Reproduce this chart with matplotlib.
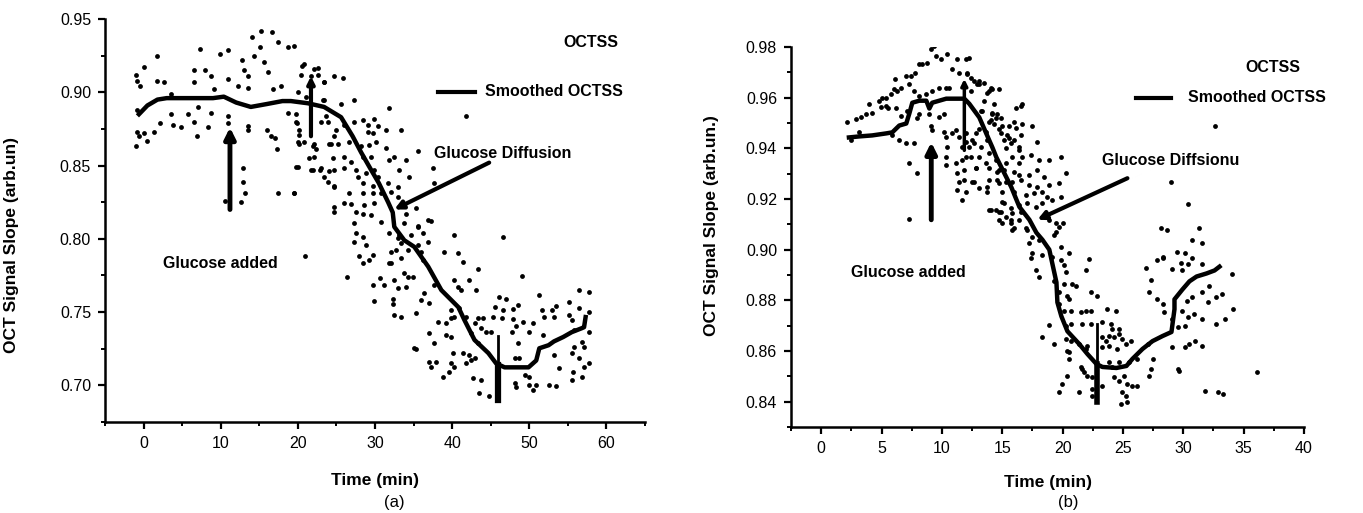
import numpy as np
import matplotlib.pyplot as plt
from matplotlib.ticker import MultipleLocator, FormatStrFormatter

plt.rcParams['font.family'] = ['Liberation Sans', 'DejaVu Sans']

### Panel (a): raw OCTSS points (time min, slope)
a_pts_early = [
    (-1.0, 0.912), (-0.8, 0.9075), (0.0, 0.917), (-0.4, 0.904), (1.7, 0.925), (1.7, 0.908), (2.6, 0.907),
    (3.5, 0.899), (-0.8, 0.888), (-0.9, 0.873), (-0.6, 0.870), (0.0, 0.8725), (0.5, 0.867), (1.4, 0.873),
    (2.1, 0.879), (3.6, 0.885), (3.8, 0.8775), (4.8, 0.876), (5.7, 0.885), (6.5, 0.915), (6.6, 0.907),
    (7.3, 0.9295), (7.9, 0.915), (6.5, 0.8795), (6.9, 0.870), (7.1, 0.890), (8.3, 0.876), (8.7, 0.911),
    (8.8, 0.886), (9.1, 0.902), (9.9, 0.926), (11.0, 0.9288), (11.0, 0.909), (11.0, 0.8835), (10.9, 0.879),
    (12.3, 0.904), (13.0, 0.915), (12.7, 0.922), (14.0, 0.9377), (15.2, 0.9418), (16.6, 0.941), (13.5, 0.911),
    (13.5, 0.903), (14.3, 0.9247), (15.1, 0.9308), (15.6, 0.9205), (16.1, 0.914), (17.4, 0.9342), (18.7, 0.9308),
    (19.5, 0.9315), (16.8, 0.902), (17.8, 0.904), (13.5, 0.877), (13.6, 0.8745), (16.0, 0.8745), (16.5, 0.870),
    (17.1, 0.8685), (17.3, 0.861), (18.7, 0.886), (19.7, 0.885), (19.9, 0.879), (20.1, 0.871), (20.1, 0.865),
    (20.8, 0.8658), (22.1, 0.8644), (22.1, 0.8555), (22.9, 0.8473), (23.4, 0.842), (24.7, 0.8356), (24.3, 0.8644),
    (24.7, 0.870), (23.6, 0.8835), (23.2, 0.895), (23.4, 0.907), (24.7, 0.911), (20.6, 0.918), (22.1, 0.916),
    (22.6, 0.912), (20.0, 0.849), (21.9, 0.8473), (23.0, 0.848), (24.0, 0.8466), (12.9, 0.8486), (12.9, 0.839),
    (13.2, 0.8315), (12.6, 0.8253), (10.5, 0.826), (17.4, 0.8315), (19.5, 0.8315), (-1.0, 0.863), (24.7, 0.822),
    (24.7, 0.8185), (20.9, 0.788),
]
a_pts_drop = [
    (20.8, 0.919), (22.6, 0.9164), (20.4, 0.912), (21.7, 0.911), (23.4, 0.907), (25.8, 0.9096), (20.0, 0.900),
    (21.0, 0.897), (23.4, 0.895), (25.6, 0.892), (27.3, 0.895), (31.8, 0.889), (41.8, 0.8835), (19.7, 0.8795),
    (20.1, 0.8745), (23.0, 0.8795), (23.9, 0.8795), (24.9, 0.8745), (26.0, 0.878), (27.3, 0.880), (28.4, 0.881),
    (29.9, 0.8815), (29.1, 0.878), (30.4, 0.877), (31.4, 0.874), (29.1, 0.873), (29.7, 0.8725), (33.4, 0.874),
    (20.0, 0.8658), (21.9, 0.863), (22.3, 0.861), (24.0, 0.8644), (25.2, 0.865), (26.6, 0.8658), (28.2, 0.863),
    (29.2, 0.8637), (30.1, 0.8658), (31.4, 0.8623), (35.6, 0.8596), (21.4, 0.855), (19.7, 0.849), (24.5, 0.855),
    (26.0, 0.8555), (26.9, 0.8527), (28.4, 0.856), (29.5, 0.856), (31.8, 0.854), (32.5, 0.856), (34.0, 0.854),
    (21.7, 0.8473), (24.7, 0.8473), (26.0, 0.8486), (27.5, 0.8473), (28.8, 0.845), (29.9, 0.8473), (30.4, 0.8425),
    (33.1, 0.8473), (37.5, 0.8486), (23.9, 0.839), (24.7, 0.8363), (27.8, 0.842), (28.4, 0.8384), (29.7, 0.8363),
    (31.7, 0.8384), (33.0, 0.8356), (34.4, 0.842), (37.7, 0.8384), (19.5, 0.831), (26.6, 0.8315), (28.4, 0.8315),
    (29.7, 0.8315), (30.8, 0.8315), (32.1, 0.832), (33.0, 0.8288), (26.0, 0.8247), (26.9, 0.824), (28.6, 0.8233),
    (29.9, 0.8247), (35.3, 0.8212), (27.5, 0.818), (28.4, 0.817), (29.5, 0.8164), (34.0, 0.817), (27.3, 0.811),
    (30.8, 0.8116), (33.8, 0.811), (35.6, 0.808), (36.9, 0.813), (27.5, 0.804), (28.4, 0.8014), (31.8, 0.804),
    (33.1, 0.8027), (34.7, 0.8027), (36.2, 0.804), (40.3, 0.8027), (27.3, 0.798), (28.8, 0.796), (33.4, 0.797),
    (34.3, 0.7925), (36.9, 0.798), (39.0, 0.791), (36.0, 0.791), (32.1, 0.791), (29.7, 0.789), (37.3, 0.8123),
    (35.6, 0.809), (33.0, 0.8007), (46.6, 0.8014), (32.7, 0.7925), (35.6, 0.796), (40.8, 0.790), (32.1, 0.7836),
    (33.4, 0.787), (36.2, 0.7856), (41.4, 0.7842), (43.4, 0.7795), (27.9, 0.788), (28.4, 0.7836), (29.2, 0.7856),
    (26.4, 0.774), (29.7, 0.7685), (30.6, 0.7733), (29.9, 0.7575), (32.3, 0.759), (32.3, 0.7555), (31.8, 0.7836),
    (35.3, 0.7247),
]
a_pts_low = [
    (31.2, 0.7685), (32.5, 0.772), (33.8, 0.7767), (34.3, 0.774), (34.9, 0.774), (37.7, 0.7685), (40.3, 0.772),
    (40.8, 0.767), (42.2, 0.772), (43.1, 0.765), (49.0, 0.7747), (33.0, 0.7664), (34.0, 0.767), (36.4, 0.763),
    (41.2, 0.765), (36.0, 0.7582), (37.0, 0.7562), (32.5, 0.748), (33.4, 0.7466), (35.3, 0.7493), (39.9, 0.7514),
    (40.9, 0.7527), (40.3, 0.7466), (41.8, 0.7466), (45.5, 0.7534), (46.1, 0.7603), (47.0, 0.759), (48.6, 0.7548),
    (51.2, 0.7616), (56.4, 0.765), (57.7, 0.7637), (55.1, 0.7568), (56.5, 0.7527), (57.7, 0.750), (45.3, 0.7466),
    (46.6, 0.7514), (47.9, 0.752), (51.6, 0.7514), (52.9, 0.7514), (53.5, 0.754), (43.4, 0.746), (44.0, 0.746),
    (38.2, 0.7432), (39.2, 0.7425), (39.9, 0.746), (42.9, 0.7425), (43.8, 0.739), (44.4, 0.7363), (45.1, 0.7363),
    (46.4, 0.746), (47.9, 0.7452), (48.3, 0.7404), (49.2, 0.7432), (50.5, 0.7425), (53.2, 0.7466), (51.9, 0.7466),
    (55.2, 0.748), (55.5, 0.7445), (37.0, 0.7356), (39.2, 0.7342), (39.9, 0.733), (42.5, 0.7356), (47.7, 0.7363),
    (49.9, 0.7363), (51.8, 0.7342), (55.8, 0.7377), (57.7, 0.7363), (35.1, 0.7253), (37.7, 0.7288), (43.4, 0.7288),
    (48.6, 0.7288), (56.8, 0.7295), (57.1, 0.726), (55.8, 0.726), (40.1, 0.722), (41.4, 0.722), (42.2, 0.7205),
    (48.1, 0.7185), (48.7, 0.7185), (53.2, 0.7205), (55.5, 0.722), (56.4, 0.719), (37.0, 0.7158), (37.9, 0.7158),
    (37.3, 0.7123), (39.9, 0.715), (40.3, 0.7123), (41.8, 0.715), (42.5, 0.717), (42.9, 0.719), (53.9, 0.7116),
    (57.1, 0.7123), (57.8, 0.715), (38.8, 0.7055), (39.6, 0.709), (49.5, 0.7068), (49.9, 0.7055), (55.7, 0.709),
    (56.8, 0.7055), (55.5, 0.7034), (42.7, 0.705), (43.8, 0.7034), (48.1, 0.7014), (48.3, 0.6986), (49.9, 0.700),
    (50.9, 0.700), (50.5, 0.6966), (52.6, 0.700), (53.5, 0.6993), (43.5, 0.6945), (44.8, 0.693), (46.0, 0.7034),
]

### Panel (a): smoothed OCTSS
a_smooth_t = [-0.6, 0.5, 1.8, 3, 5, 7, 9, 10.4, 12, 13.9, 16, 18, 19.1, 21.3, 23.4, 25.6, 27.1, 28.2, 29.5,
              30.5, 31.7, 32.3, 32.5, 33.8, 35.1, 36.9, 38.6, 40.8, 41.6, 42.9, 44.7, 45.7, 46.8, 49.9, 50.9,
              51.3, 52.5, 53.2, 54.4, 55.5, 56.8, 57.1, 57.3]
a_smooth_s = [0.885, 0.891, 0.895, 0.896, 0.896, 0.896, 0.896, 0.897, 0.893, 0.890, 0.892, 0.894, 0.894,
              0.8925, 0.890, 0.883, 0.870, 0.859, 0.847, 0.838, 0.825, 0.818, 0.8082, 0.799, 0.7945, 0.781,
              0.765, 0.7534, 0.7445, 0.731, 0.722, 0.715, 0.7123, 0.7123, 0.717, 0.7253, 0.7274, 0.730,
              0.733, 0.7363, 0.739, 0.7397, 0.7466]

### Panel (b): raw OCTSS points
b_pts_rise = [
    (2.16, 0.9502), (2.49, 0.9431), (2.90, 0.9514), (3.32, 0.9522), (3.15, 0.9463), (3.73, 0.9537), (3.98, 0.9576),
    (4.23, 0.9541), (4.81, 0.9588), (5.06, 0.960), (4.98, 0.9565), (5.39, 0.9569), (5.80, 0.9616), (5.56, 0.9561),
    (6.05, 0.9635), (6.14, 0.9674), (6.30, 0.9627), (6.63, 0.9639), (7.05, 0.9686), (7.46, 0.9686), (7.79, 0.9698),
    (8.13, 0.9733), (8.37, 0.9733), (8.79, 0.9737), (9.12, 0.9792), (9.37, 0.9804), (9.54, 0.9765), (9.95, 0.9753),
    (10.45, 0.9773), (10.86, 0.9714), (11.28, 0.9753), (11.44, 0.9698), (12.02, 0.9753), (12.27, 0.9757),
    (12.11, 0.9698), (12.44, 0.9678), (12.94, 0.9655), (7.30, 0.9655), (7.71, 0.9627), (8.13, 0.9608),
    (8.71, 0.9616), (9.20, 0.9627), (9.78, 0.9639), (10.36, 0.9639), (10.6, 0.9639), (5.39, 0.960), (6.22, 0.9561),
    (6.63, 0.9529), (7.13, 0.9549), (8.13, 0.9537), (8.96, 0.9537), (9.78, 0.9522), (10.2, 0.9537), (7.96, 0.9518),
    (9.12, 0.949), (9.20, 0.9471), (5.89, 0.9451), (6.47, 0.9431), (7.05, 0.942), (7.71, 0.942), (10.2, 0.9463),
    (10.36, 0.9443), (10.45, 0.9404), (10.86, 0.9459), (11.19, 0.9471), (11.44, 0.9443), (12.02, 0.9424),
    (12.27, 0.9404), (12.52, 0.9431), (12.85, 0.9459), (13.27, 0.9404), (13.76, 0.9431), (13.93, 0.9502),
    (14.18, 0.9537), (14.51, 0.9518), (14.76, 0.9478), (13.35, 0.9549), (13.52, 0.9588), (13.93, 0.9627),
    (14.18, 0.9635), (14.76, 0.9635), (13.52, 0.9659), (13.1, 0.9667), (16.58, 0.9569), (7.30, 0.9341),
    (7.96, 0.9302), (10.36, 0.9365), (10.36, 0.9333), (11.19, 0.9341), (11.28, 0.9302), (11.44, 0.9267),
    (11.28, 0.9235), (12.02, 0.9365), (12.52, 0.9267), (12.85, 0.9322), (13.68, 0.9341), (13.93, 0.9275),
    (13.76, 0.9247), (14.51, 0.9353), (14.59, 0.9275), (15.34, 0.9267), (14.76, 0.9314), (15.34, 0.9341),
    (15.84, 0.9365), (15.75, 0.942), (16.0, 0.9431), (16.42, 0.9404), (15.42, 0.9451), (16.17, 0.9482),
    (16.67, 0.9498), (13.93, 0.9157), (14.51, 0.9157), (15.01, 0.9188), (14.93, 0.9149), (15.34, 0.913),
    (15.84, 0.9145), (15.75, 0.9106), (16.42, 0.9118), (15.84, 0.9079), (16.58, 0.9149), (17.08, 0.9079),
    (17.5, 0.9051), (17.25, 0.9028), (7.30, 0.9122),
]
b_pts_fall = [
    (12.11, 0.9694), (12.69, 0.9667), (13.1, 0.9655), (11.86, 0.9647), (12.44, 0.9627), (14.1, 0.9639),
    (13.76, 0.962), (14.35, 0.9576), (13.27, 0.9549), (14.18, 0.9541), (14.59, 0.9537), (16.67, 0.9576),
    (16.17, 0.9561), (14.1, 0.951), (14.35, 0.9498), (14.93, 0.9518), (15.01, 0.949), (15.59, 0.949), (16.0, 0.9502),
    (17.5, 0.949), (13.1, 0.9478), (12.02, 0.9459), (11.69, 0.9404), (12.69, 0.942), (13.68, 0.9463),
    (14.93, 0.9459), (15.17, 0.9431), (15.59, 0.9439), (16.58, 0.9451), (17.91, 0.9424), (12.44, 0.9365),
    (13.1, 0.9365), (13.93, 0.938), (15.34, 0.940), (16.42, 0.9392), (16.67, 0.9365), (16.42, 0.9341),
    (17.41, 0.9373), (18.08, 0.9353), (18.9, 0.9353), (19.9, 0.9365), (11.69, 0.9353), (11.86, 0.9314),
    (12.85, 0.9322), (13.93, 0.9322), (14.59, 0.9306), (15.17, 0.9314), (16.0, 0.9306), (16.42, 0.9294),
    (17.25, 0.9294), (17.91, 0.9314), (18.49, 0.9286), (20.32, 0.9302), (11.86, 0.9275), (12.69, 0.9267),
    (14.76, 0.9263), (15.84, 0.9267), (16.58, 0.9275), (17.25, 0.9255), (17.91, 0.9247), (18.9, 0.9255),
    (19.73, 0.9263), (12.02, 0.9228), (13.1, 0.9243), (13.76, 0.9228), (15.01, 0.9228), (16.0, 0.9228),
    (17.0, 0.9216), (17.66, 0.9224), (18.33, 0.9228), (18.74, 0.9208), (19.9, 0.9208), (11.69, 0.9196),
    (14.1, 0.9157), (14.76, 0.9149), (15.17, 0.9184), (15.75, 0.9165), (16.42, 0.9177), (17.08, 0.9184),
    (17.83, 0.9169), (18.33, 0.9184), (19.15, 0.9196), (15.01, 0.9106), (15.75, 0.9118), (14.76, 0.9118),
    (16.0, 0.9086), (17.0, 0.9086), (18.9, 0.9118), (19.49, 0.9106), (19.73, 0.909), (20.07, 0.9106),
    (19.49, 0.9071), (19.32, 0.9059), (18.08, 0.9039), (19.9, 0.9012), (20.56, 0.8988), (19.15, 0.8973),
    (17.5, 0.8988), (17.41, 0.8969), (18.33, 0.898), (22.22, 0.8965), (17.83, 0.8918), (18.08, 0.8894),
    (19.9, 0.8961), (20.15, 0.8941), (20.32, 0.891), (21.97, 0.8918), (19.32, 0.8875), (20.15, 0.8863),
    (20.81, 0.8863), (21.14, 0.8855), (19.73, 0.8831), (20.4, 0.8816), (20.56, 0.8804), (22.39, 0.8831),
    (22.89, 0.8816),
]
b_pts_low = [
    (19.73, 0.8784), (20.15, 0.8757), (20.73, 0.8757), (21.56, 0.8753), (21.97, 0.8757), (22.39, 0.8757),
    (23.71, 0.8765), (24.46, 0.8757), (18.9, 0.8702), (20.32, 0.8698), (20.73, 0.8706), (21.64, 0.8706),
    (22.39, 0.8706), (23.3, 0.8714), (24.05, 0.8706), (24.13, 0.8686), (24.71, 0.8686), (18.33, 0.8655),
    (19.32, 0.8627), (20.32, 0.8647), (20.73, 0.8639), (21.39, 0.8627), (22.06, 0.862), (23.3, 0.8655),
    (23.63, 0.8639), (23.88, 0.8659), (24.3, 0.8655), (24.71, 0.8667), (24.96, 0.8647), (20.4, 0.860),
    (20.56, 0.8596), (21.97, 0.8608), (23.3, 0.8616), (23.88, 0.862), (24.54, 0.8608), (25.29, 0.8627),
    (25.7, 0.8639), (20.56, 0.8569), (21.56, 0.8537), (21.81, 0.8518), (23.88, 0.8557), (24.13, 0.8537),
    (24.71, 0.8557), (25.54, 0.8557), (26.2, 0.8569), (27.45, 0.8569), (20.4, 0.8502), (19.98, 0.8471),
    (19.73, 0.8439), (21.39, 0.8439), (21.64, 0.853), (22.06, 0.8502), (22.47, 0.8498), (23.3, 0.8463),
    (24.3, 0.8498), (24.71, 0.8482), (25.12, 0.8502), (25.37, 0.8471), (25.79, 0.8463), (26.2, 0.8463),
    (27.2, 0.8502), (27.36, 0.853), (24.96, 0.8439), (25.29, 0.8424), (24.88, 0.8392), (25.37, 0.840),
    (22.47, 0.8424), (22.47, 0.8451), (26.95, 0.8929), (27.36, 0.8882), (27.86, 0.8961), (28.28, 0.8973),
    (29.1, 0.8922), (29.85, 0.8949), (29.93, 0.8918), (30.35, 0.8945), (30.76, 0.8969), (31.51, 0.8945),
    (32.17, 0.8855), (31.59, 0.8831), (30.76, 0.8812), (30.27, 0.8796), (32.01, 0.8792), (32.75, 0.8812),
    (33.17, 0.8824), (34.0, 0.8902), (34.08, 0.8765), (27.2, 0.8831), (27.86, 0.8804), (28.28, 0.8784),
    (28.44, 0.8753), (29.1, 0.8725), (29.93, 0.8757), (30.35, 0.8733), (30.85, 0.8745), (31.59, 0.8725),
    (32.75, 0.8706), (33.42, 0.8725), (29.52, 0.8694), (30.1, 0.8698), (29.1, 0.8616), (30.1, 0.8616),
    (30.51, 0.8627), (30.93, 0.8639), (31.59, 0.862), (27.04, 0.8627), (29.52, 0.853), (29.68, 0.8522),
    (36.07, 0.8518), (32.84, 0.8439), (33.25, 0.8431), (31.76, 0.8443), (32.59, 0.949), (29.02, 0.9267),
    (30.35, 0.918), (28.19, 0.9086), (28.69, 0.9079), (31.34, 0.9086), (30.68, 0.9039), (31.59, 0.9028),
    (30.1, 0.8988), (29.44, 0.8992), (28.28, 0.8969),
]

### Panel (b): smoothed OCTSS
b_smooth_t = [2.3, 3.15, 4.23, 5.39, 5.89, 6.47, 7.05, 7.3, 7.55, 8.13, 8.71, 8.96, 9.2, 10.36, 11.19, 11.86,
              12.27, 13.1, 13.93, 14.18, 14.51, 15.17, 15.75, 16.42, 17.25, 17.83, 18.33, 18.9, 19.49, 19.57,
              19.9, 20.4, 21.39, 22.06, 22.8, 23.3, 24.46, 25.29, 25.79, 26.62, 27.45, 28.28, 29.02, 29.27,
              29.27, 29.93, 30.51, 31.1, 31.92, 32.59, 33.0]
b_smooth_s = [0.9443, 0.9447, 0.9451, 0.9459, 0.9463, 0.949, 0.9498, 0.9537, 0.958, 0.9588, 0.9588, 0.9557,
              0.958, 0.9596, 0.9596, 0.9596, 0.9576, 0.9522, 0.9431, 0.9404, 0.9365, 0.9302, 0.9247, 0.9169,
              0.9118, 0.9067, 0.9039, 0.900, 0.8871, 0.8792, 0.8737, 0.8678, 0.8627, 0.8588, 0.8549, 0.8537,
              0.8533, 0.8541, 0.8569, 0.8608, 0.8639, 0.8659, 0.8675, 0.8765, 0.8804, 0.8843, 0.8875, 0.8894,
              0.8906, 0.8918, 0.8933]

W, H = 1363, 513
fig = plt.figure(figsize=(W/100, H/100), dpi=100)
ax1 = fig.add_axes([105/W, 1-422/H, (645-105)/W, (422-19)/H])
ax2 = fig.add_axes([791/W, 1-427/H, (1304-791)/W, (427-47)/H])

bold = dict(fontweight='bold', fontsize=11.5)

def style(ax):
    for s in ['top', 'right']:
        ax.spines[s].set_visible(False)
    for s in ['left', 'bottom']:
        ax.spines[s].set_linewidth(1.8)
    ax.tick_params(which='major', direction='out', length=5, width=1.6, labelsize=11.5, pad=5)
    ax.tick_params(which='minor', direction='out', length=3, width=1.4)

def arrow(ax, tail, head, lw=3.5, ms=16):
    ax.annotate('', xy=head, xytext=tail,
                arrowprops=dict(arrowstyle='-|>', lw=lw, color='black', mutation_scale=ms,
                                shrinkA=0, shrinkB=0))

### ---- panel (a)
for pts in (a_pts_early, a_pts_drop, a_pts_low):
    t, s = zip(*pts)
    ax1.scatter(t, s, s=12, color='black', linewidths=0)
ax1.plot(a_smooth_t, a_smooth_s, color='black', lw=3.2)

ax1.set_xlim(-5, 65)
ax1.set_ylim(0.675, 0.95)
ax1.xaxis.set_major_locator(MultipleLocator(10))
ax1.xaxis.set_minor_locator(MultipleLocator(5))
ax1.yaxis.set_major_locator(MultipleLocator(0.05))
ax1.yaxis.set_minor_locator(MultipleLocator(0.025))
ax1.yaxis.set_major_formatter(FormatStrFormatter('%.2f'))
style(ax1)
ax1.set_xlabel('Time (min)', fontweight='bold', fontsize=12.5)
ax1.set_ylabel('OCT Signal Slope (arb.un)', fontweight='bold', fontsize=12.5)
ax1.xaxis.set_label_coords(0.5, -0.127)
ax1.yaxis.set_label_coords(-0.159, 0.44)

ax1.text(54.4, 0.934, 'OCTSS', ha='left', va='center', **bold)
ax1.plot([38.2, 42.9], [0.900, 0.900], color='black', lw=3)
ax1.text(44.2, 0.9007, 'Smoothed OCTSS', ha='left', va='center', **bold)
ax1.text(37.7, 0.8582, 'Glucose Diffusion', ha='left', va='center', **bold)
ax1.text(2.5, 0.783, 'Glucose added', ha='left', va='center', **bold)

arrow(ax1, (11.2, 0.820), (11.2, 0.876))
arrow(ax1, (44.8, 0.852), (32.5, 0.820), lw=3, ms=12)
arrow(ax1, (21.7, 0.870), (21.7, 0.911), lw=3, ms=10)
ax1.plot([46.0, 46.0], [0.734, 0.712], color='black', lw=2)
ax1.plot([46.0, 46.0], [0.714, 0.690], color='black', lw=4.5)

### ---- panel (b)
for pts in (b_pts_rise, b_pts_fall, b_pts_low):
    t, s = zip(*pts)
    ax2.scatter(t, s, s=12, color='black', linewidths=0)
ax2.plot(b_smooth_t, b_smooth_s, color='black', lw=3.2)

ax2.set_xlim(-2.5, 40)
ax2.set_ylim(0.83, 0.98)
ax2.xaxis.set_major_locator(MultipleLocator(5))
ax2.xaxis.set_minor_locator(MultipleLocator(2.5))
ax2.yaxis.set_major_locator(MultipleLocator(0.02))
ax2.yaxis.set_minor_locator(MultipleLocator(0.01))
ax2.yaxis.set_major_formatter(FormatStrFormatter('%.2f'))
style(ax2)
ax2.set_xlabel('Time (min)', fontweight='bold', fontsize=12.5)
ax2.set_ylabel('OCT Signal Slope (arb.un.)', fontweight='bold', fontsize=12.5)
ax2.xaxis.set_label_coords(0.5, -0.126)
ax2.yaxis.set_label_coords(-0.140, 0.53)

ax2.text(37.4, 0.9718, 'OCTSS', ha='center', va='center', clip_on=False, **bold)
ax2.plot([26.1, 29.0], [0.960, 0.960], color='black', lw=3)
ax2.text(30.4, 0.960, 'Smoothed OCTSS', ha='left', va='center', clip_on=False, **bold)
ax2.text(23.3, 0.9353, 'Glucose Diffsionu', ha='left', va='center', **bold)
ax2.text(2.5, 0.891, 'Glucose added', ha='left', va='center', **bold)

arrow(ax2, (9.12, 0.9118), (9.12, 0.9424))
arrow(ax2, (25.37, 0.9282), (17.91, 0.9118), lw=3, ms=12)
arrow(ax2, (11.86, 0.9392), (11.86, 0.9674), lw=2.5, ms=9)
ax2.plot([22.85, 22.85], [0.8706, 0.853], color='black', lw=2)
ax2.plot([22.85, 22.85], [0.855, 0.840], color='black', lw=4)

fig.text(394/W, 1-502/H, '(a)', ha='center', va='center', fontsize=12)
fig.text(1068/W, 1-502/H, '(b)', ha='center', va='center', fontsize=12)

fig.savefig('out.png', dpi=100)
